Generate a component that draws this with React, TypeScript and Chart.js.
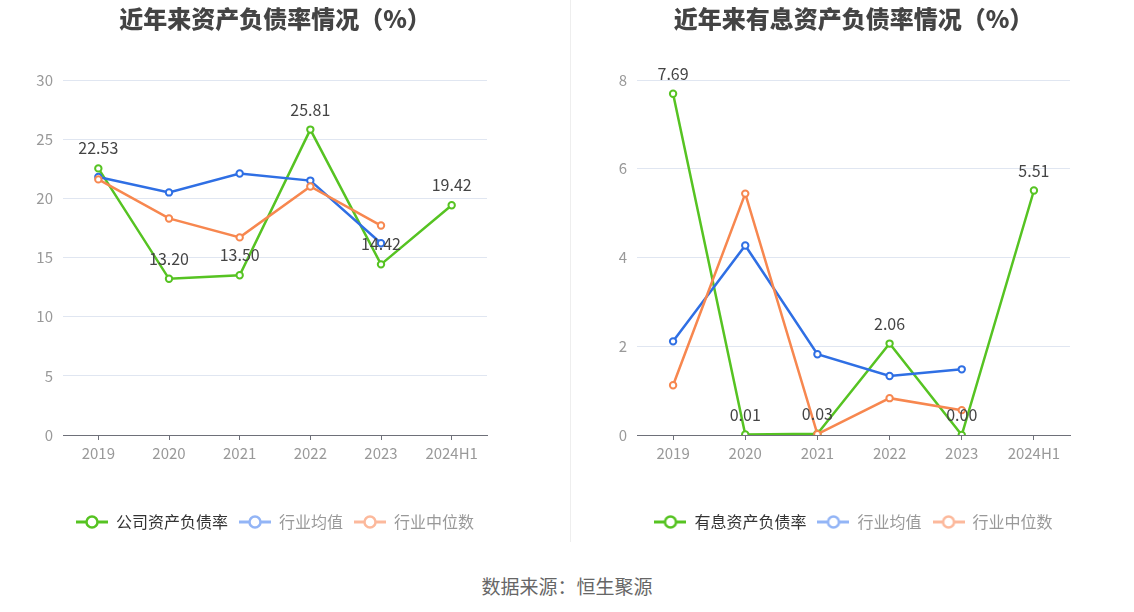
import React, { useEffect, useRef } from "react";
import { Chart, registerables } from "chart.js";

Chart.register(...registerables);

const categories = ["2019", "2020", "2021", "2022", "2023", "2024H1"];

// Left chart: 资产负债率
const companyDebtRatio = [22.53, 13.2, 13.5, 25.81, 14.42, 19.42];
const industryAvgDebt = [21.8, 20.5, 22.1, 21.5, 16.2, null];
const industryMedianDebt = [21.6, 18.3, 16.7, 21.0, 17.7, null];
const leftTicks = [0, 5, 10, 15, 20, 25, 30];

// Right chart: 有息资产负债率
const interestDebtRatio = [7.69, 0.01, 0.03, 2.06, 0.0, 5.51];
const industryAvgInterest = [2.11, 4.27, 1.82, 1.33, 1.48, null];
const industryMedianInterest = [1.12, 5.44, 0.02, 0.83, 0.56, null];
const rightTicks = [0, 2, 4, 6, 8];

const FONT = '"Noto Sans CJK SC", "Noto Sans", sans-serif';
const GREEN = "#56c322";
const BLUE = "#2f6fe4";
const ORANGE = "#f7874f";
const BLUE_LIGHT = "#93b5f6";
const ORANGE_LIGHT = "#fcb99c";

function legendMarker(color: string): HTMLCanvasElement {
  const c = document.createElement("canvas");
  c.width = 32;
  c.height = 16;
  const ctx = c.getContext("2d")!;
  ctx.strokeStyle = color;
  ctx.lineWidth = 3;
  ctx.beginPath();
  ctx.moveTo(0, 8);
  ctx.lineTo(32, 8);
  ctx.stroke();
  ctx.beginPath();
  ctx.arc(16, 8, 5.5, 0, Math.PI * 2);
  ctx.fillStyle = "#fff";
  ctx.fill();
  ctx.lineWidth = 2.5;
  ctx.stroke();
  return c;
}

const valueLabelPlugin = {
  id: "valueLabels",
  afterDatasetsDraw(chart: any) {
    const meta = chart.getDatasetMeta(0);
    const data = chart.data.datasets[0].data;
    const ctx = chart.ctx;
    ctx.save();
    ctx.font = `16px ${FONT}`;
    ctx.fillStyle = "#444";
    ctx.textAlign = "center";
    ctx.textBaseline = "middle";
    meta.data.forEach((pt: any, i: number) => {
      const v = data[i];
      if (v === null || v === undefined) return;
      ctx.fillText(Number(v).toFixed(2), pt.x, pt.y - 20);
    });
    ctx.restore();
  },
};

interface ChartProps {
  title: string;
  mainName: string;
  main: (number | null)[];
  avg: (number | null)[];
  median: (number | null)[];
  ticks: number[];
  padLeft: number;
  padRight: number;
}

function LineChart(props: ChartProps) {
  const ref = useRef<HTMLCanvasElement>(null);
  useEffect(() => {
    const { title, mainName, main, avg, median, ticks, padLeft, padRight } = props;
    const markers = [legendMarker(GREEN), legendMarker(BLUE_LIGHT), legendMarker(ORANGE_LIGHT)];
    const mkDs = (label: string, data: (number | null)[], color: string, order: number) => ({
      label,
      data,
      borderColor: color,
      backgroundColor: "#fff",
      pointBackgroundColor: "#fff",
      pointBorderColor: color,
      pointRadius: 3.2,
      pointBorderWidth: 2,
      borderWidth: 2.5,
      tension: 0,
      spanGaps: false,
      order,
    });
    const chart = new Chart(ref.current!, {
      type: "line",
      data: {
        labels: categories,
        datasets: [
          mkDs(mainName, main, GREEN, 3),
          mkDs("行业均值", avg, BLUE, 2),
          mkDs("行业中位数", median, ORANGE, 1),
        ],
      },
      plugins: [valueLabelPlugin],
      options: {
        animation: false,
        responsive: false,
        maintainAspectRatio: false,
        layout: { padding: { left: padLeft, right: padRight, top: 0, bottom: 0 } },
        plugins: {
          tooltip: { enabled: false },
          title: {
            display: true,
            text: title,
            fullSize: false,
            color: "#444",
            font: { family: FONT, size: 24, weight: "900", lineHeight: 1.2 },
            padding: { top: 4, bottom: 47.2 },
          },
          legend: {
            display: true,
            position: "bottom",
            fullSize: false,
            labels: {
              usePointStyle: true,
              pointStyleWidth: 32,
              padding: 11,
              font: { family: FONT, size: 16 },
              generateLabels: () => [
                { text: mainName, pointStyle: markers[0], fontColor: "#333", datasetIndex: 0, lineWidth: 0, strokeStyle: "transparent", fillStyle: "transparent" },
                { text: "行业均值", pointStyle: markers[1], fontColor: "#999", datasetIndex: 1, lineWidth: 0, strokeStyle: "transparent", fillStyle: "transparent" },
                { text: "行业中位数", pointStyle: markers[2], fontColor: "#999", datasetIndex: 2, lineWidth: 0, strokeStyle: "transparent", fillStyle: "transparent" },
              ] as any,
            },
            onClick: () => {},
          },
        },
        scales: {
          x: {
            offset: true,
            grid: {
              display: true,
              offset: false,
              drawOnChartArea: false,
              drawTicks: true,
              tickLength: 5,
              color: "#6e7079",
            },
            border: { display: true, color: "#6e7079", width: 1 },
            ticks: { color: "#999", font: { family: FONT, size: 15 }, padding: 4, autoSkip: false, maxRotation: 0 },
            afterFit: (scale: any) => {
              scale.height = 68;
            },
          },
          y: {
            min: ticks[0],
            max: ticks[ticks.length - 1],
            afterBuildTicks: (scale: any) => {
              scale.ticks = ticks.map((v) => ({ value: v }));
            },
            grid: { color: "#e0e6f1", drawTicks: false, lineWidth: 1 },
            border: { display: false },
            ticks: { color: "#999", font: { family: FONT, size: 15 }, padding: 10 },
            afterFit: (scale: any) => {
              scale.width = 40;
            },
          },
        },
      },
    });
    return () => chart.destroy();
  }, []);
  return <canvas ref={ref} width={567} height={540} style={{ display: "block", width: 567, height: 540 }} />;
}

export default function App() {
  useEffect(() => {
    document.body.style.margin = "0";
  }, []);
  return (
    <div style={{ position: "relative", width: 1134, height: 612, background: "#fff", overflow: "hidden" }}>
      <div style={{ position: "absolute", left: 0, top: 0 }}>
        <LineChart
          title="近年来资产负债率情况（%）"
          mainName="公司资产负债率"
          main={companyDebtRatio}
          avg={industryAvgDebt}
          median={industryMedianDebt}
          ticks={leftTicks}
          padLeft={23}
          padRight={80}
        />
      </div>
      <div style={{ position: "absolute", left: 567, top: 0 }}>
        <LineChart
          title="近年来有息资产负债率情况（%）"
          mainName="有息资产负债率"
          main={interestDebtRatio}
          avg={industryAvgInterest}
          median={industryMedianInterest}
          ticks={rightTicks}
          padLeft={30}
          padRight={64}
        />
      </div>
      <div style={{ position: "absolute", left: 570, top: 0, width: 1, height: 542, background: "#eeeeee" }} />
      <div
        style={{
          position: "absolute",
          left: 0,
          width: 1134,
          top: 574,
          textAlign: "center",
          fontFamily: FONT,
          fontSize: 19,
          lineHeight: "24px",
          color: "#666",
        }}
      >
        数据来源：恒生聚源
      </div>
    </div>
  );
}
